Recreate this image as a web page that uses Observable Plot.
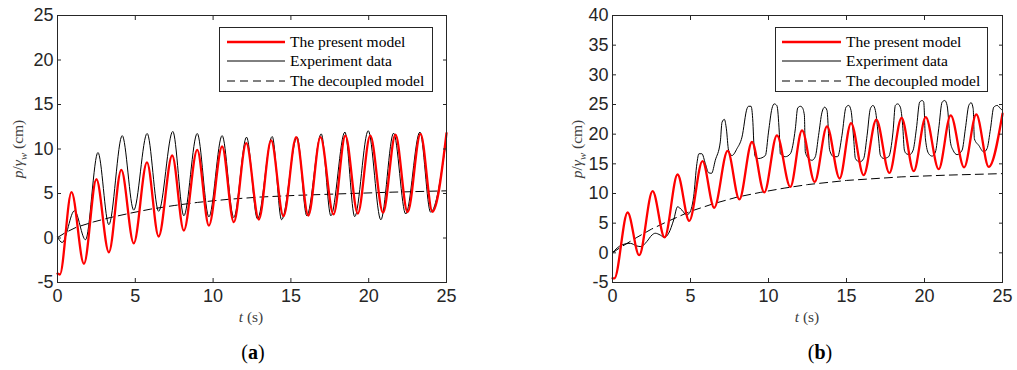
<!DOCTYPE html>
<html>
<head>
<meta charset="utf-8">
<script src="https://cdn.jsdelivr.net/npm/d3@7"></script>
<script src="https://cdn.jsdelivr.net/npm/@observablehq/plot@0.6"></script>
<style>
  html, body { margin: 0; padding: 0; background: #fff; }
  #wrap { position: relative; width: 1017px; height: 370px; overflow: hidden; background: #fff; }
  .panel { position: absolute; top: 0; }
  .panel text { font-size: 18px !important; font-family: "Liberation Sans", Arial, sans-serif !important; fill: #262626; }
  .serif { font-family: "Liberation Serif", "DejaVu Serif", serif; }
  .ylab { position: absolute; transform: translate(-50%, -50%) rotate(-90deg); white-space: nowrap; font-size: 15.5px; color: #404040; }
  .xlab { position: absolute; transform: translate(-50%, -50%); white-space: nowrap; font-size: 15.5px; color: #404040; }
  .plab { position: absolute; transform: translate(-50%, -50%); white-space: nowrap; font-size: 20px; color: #000; }
  .legend { position: absolute; box-sizing: border-box; border: 1px solid #262626; background: #fff; }
  .legend .row { position: absolute; left: 0; height: 20px; width: 100%; }
  .legend svg { position: absolute; left: 0; top: 0; }
  .legend span { position: absolute; top: 0; line-height: 20px; font-size: 15.5px; color: #000; white-space: nowrap; }
  sub { font-size: 70%; vertical-align: -0.35em; line-height: 0; }
</style>
</head>
<body>
<div id="wrap"></div>
<script>
// ---------------- data ----------------
const xTicks = [0, 5, 10, 15, 20, 25];
const yTicksA = [-5, 0, 5, 10, 15, 20, 25];
const yTicksB = [-5, 0, 5, 10, 15, 20, 25, 30, 35, 40];
const seriesNames = ["The present model", "Experiment data", "The decoupled model"];

// panel (a): [t (s), p/γw (cm)]
const presentA = [[0,-4.0],[0.15,-4.1],[0.9,5.15],[1.7,-2.9],[2.5,6.6],[3.3,-1.6],[4.1,7.66],[4.9,-0.6],[5.75,8.5],[6.5,0.17],[7.37,9.27],[8.12,0.84],[8.98,9.9],[9.73,1.4],[10.58,10.28],[11.33,1.78],[12.13,10.65],[12.94,2.08],[13.73,10.96],[14.52,2.45],[15.34,11.33],[16.12,2.53],[16.9,11.33],[17.74,2.65],[18.5,11.5],[19.3,2.75],[20.1,11.5],[20.92,2.85],[21.72,11.6],[22.5,2.9],[23.33,11.7],[24.1,2.95],[25,11.78]];
const experimentA = [[0,0.1],[0.3,-0.5],[1.09,3.06],[1.8,-0.2],[2.6,9.6],[3.3,1.5],[4.16,11.5],[4.9,3.13],[5.76,11.74],[6.5,3.0],[7.41,11.97],[8.12,2.5],[8.98,11.74],[9.73,2.38],[10.58,11.5],[11.33,2.3],[12.15,11.33],[12.85,2.15],[13.8,11.4],[14.4,2.05],[15.4,11.33],[16.02,2.5],[16.95,11.7],[17.57,2.5],[18.47,11.9],[19.1,2.4],[19.97,12.05],[20.78,2.05],[21.6,11.78],[22.38,2.7],[23.29,11.9],[23.98,2.9],[25,11.2]];
const decoupledA = [[0,0.05],[0.5,0.6],[1.2,1.2],[2.3,1.8],[3.4,2.3],[4.7,2.8],[6,3.25],[7.5,3.65],[9,4.0],[11,4.35],[13,4.6],[15.5,4.8],[18,4.95],[21.5,5.15],[25,5.3]];

// panel (b)
const presentB = [[0,-4.3],[0.12,-4.3],[0.97,6.8],[1.71,-0.4],[2.57,10.4],[3.34,2.6],[4.17,13.2],[4.92,5.38],[5.77,15.44],[6.52,7.6],[7.38,17.17],[8.13,9.0],[8.94,18.68],[9.73,10.18],[10.54,19.8],[11.4,11.12],[12.15,20.64],[12.96,11.96],[13.75,21.3],[14.56,12.53],[15.29,21.87],[16.1,13.09],[16.91,22.43],[17.75,13.47],[18.53,22.75],[19.31,13.76],[20.08,22.87],[20.91,14.1],[21.68,23.16],[22.54,14.4],[23.32,23.33],[24.12,14.48],[25,23.44]];
const experimentB = [[0,0.04],[0.6,1.33],[1.14,1.6],[1.56,1.16],[1.82,1.05],[2.2,1.9],[2.53,3.0],[2.74,3.3],[3.06,3.0],[3.32,2.6],[3.6,3.3],[3.92,5.53],[4.17,7.76],[4.45,7.2],[4.75,6.4],[4.9,6.6],[5.2,9.44],[5.41,15.05],[5.54,16.7],[5.73,16.7],[5.95,15.05],[6.16,13.5],[6.35,13.4],[6.59,15.6],[6.91,18.7],[7.02,22.0],[7.17,22.5],[7.3,20.9],[7.44,17.3],[7.66,16.4],[7.98,17.57],[8.3,19.5],[8.62,24.3],[8.72,24.7],[8.88,24.7],[9.0,22.0],[9.05,19.0],[9.15,16.2],[9.37,15.9],[9.8,16.4],[10.0,20.35],[10.22,24.3],[10.37,25.1],[10.54,24.8],[10.69,20.35],[10.76,16.7],[11.08,16.2],[11.4,16.7],[11.72,20.9],[11.87,24.4],[12.04,24.7],[12.15,24.55],[12.3,23.2],[12.36,17.0],[12.57,15.9],[12.79,15.6],[13.0,16.2],[13.21,19.8],[13.43,23.7],[13.6,24.55],[13.75,24.0],[13.92,17.3],[14.18,16.2],[14.43,16.2],[14.71,19.8],[14.97,24.55],[15.14,24.84],[15.29,24.0],[15.46,19.2],[15.57,15.9],[15.85,15.3],[16.1,15.9],[16.32,19.8],[16.53,24.3],[16.7,24.84],[16.85,24.0],[17.06,19.2],[17.17,16.45],[17.38,15.9],[17.7,16.2],[17.98,20.35],[18.13,24.84],[18.28,25.1],[18.45,24.55],[18.6,21.5],[18.71,17.3],[18.84,16.7],[19.05,16.55],[19.27,17.3],[19.48,20.9],[19.69,25.4],[19.85,25.67],[19.95,25.4],[20.06,19.2],[20.27,16.7],[20.49,16.3],[20.7,17.0],[20.91,20.9],[21.13,25.4],[21.3,25.67],[21.45,24.84],[21.66,18.7],[21.83,17.3],[22.09,16.55],[22.41,17.3],[22.62,20.9],[22.84,24.84],[22.99,25.3],[23.12,24.3],[23.2,19.2],[23.48,18.1],[23.8,17.0],[24.01,17.57],[24.23,20.9],[24.44,24.55],[24.66,24.84],[24.87,24.3],[25,24.0]];
const decoupledB = [[0,0],[0.5,0.9],[1.56,2.6],[2.5,4.0],[3.5,5.25],[5,7.0],[6.5,8.3],[8,9.4],[9.5,10.2],[11,10.9],[12.5,11.5],[15,12.2],[18.5,12.8],[21.5,13.1],[25,13.35]];

// ---------------- drawing ----------------
const wrap = document.getElementById("wrap");
const tickColor = "#262626";
const tickFont = "'Liberation Sans', Arial, sans-serif";
const fmt = d => String(d);

function makePanel({left, width, marginRight, yDomain, yTicks, present, experiment, decoupled}) {
  const chart = Plot.plot({
    width, height: 330,
    marginLeft: 57, marginRight, marginTop: 15, marginBottom: 48,
    style: {fontFamily: tickFont, fontSize: "18px", color: tickColor, background: "transparent", overflow: "visible"},
    x: {domain: [0, 25]},
    y: {domain: yDomain},
    marks: [
      Plot.line(decoupled, {x: d => d[0], y: d => d[1], stroke: "#000", strokeWidth: 1, strokeDasharray: "8,5"}),
      Plot.line(experiment, {x: d => d[0], y: d => d[1], stroke: "#000", strokeWidth: 1, curve: "monotone-x"}),
      Plot.line(present, {x: d => d[0], y: d => d[1], stroke: "#ff0000", strokeWidth: 2.3, curve: "monotone-x"}),
      Plot.frame({stroke: tickColor, strokeWidth: 1}),
      Plot.axisX({anchor: "bottom", ticks: xTicks, tickFormat: fmt, tickSize: -4, tickPadding: 11, label: null, stroke: tickColor, fontSize: 18, fontFamily: tickFont}),
      Plot.axisX({anchor: "top", ticks: xTicks, tickSize: -4, tickFormat: () => "", label: null, stroke: tickColor}),
      Plot.axisY({anchor: "left", ticks: yTicks, tickFormat: fmt, tickSize: -4, tickPadding: 8, label: null, stroke: tickColor, fontSize: 18, fontFamily: tickFont}),
      Plot.axisY({anchor: "right", ticks: yTicks, tickSize: -4, tickFormat: () => "", label: null, stroke: tickColor})
    ]
  });
  chart.classList.add("panel");
  chart.style.left = left + "px";
  wrap.appendChild(chart);
}

makePanel({left: 0, width: 508, marginRight: 62, yDomain: [-5, 25], yTicks: yTicksA,
  present: presentA, experiment: experimentA, decoupled: decoupledA});
makePanel({left: 555, width: 462, marginRight: 15, yDomain: [-5, 40], yTicks: yTicksB,
  present: presentB, experiment: experimentB, decoupled: decoupledB});

function addText(cls, x, y, html) {
  const d = document.createElement("div");
  d.className = cls + " serif";
  d.style.left = x + "px";
  d.style.top = y + "px";
  d.innerHTML = html;
  wrap.appendChild(d);
}
const yLabel = "<i>p</i>/<i>γ<sub>w</sub></i> (cm)";
const xLabel = "<i>t</i> (s)";
addText("ylab", 18, 149, yLabel);
addText("ylab", 577, 149, yLabel);
addText("xlab", 251, 317, xLabel);
addText("xlab", 807, 317, xLabel);
addText("plab", 253, 352, "(<b>a</b>)");
addText("plab", 820, 352, "(<b>b</b>)");

function addLegend(left, lineX1, lineX2, textX, widthPx) {
  const box = document.createElement("div");
  box.className = "legend";
  box.style.left = left + "px";
  box.style.top = "27px";
  box.style.width = widthPx + "px";
  box.style.height = "65px";
  const styles = [
    {stroke: "#ff0000", sw: 2.3, dash: null},
    {stroke: "#000", sw: 1, dash: null},
    {stroke: "#000", sw: 1, dash: "8,5"}
  ];
  seriesNames.forEach((name, i) => {
    const row = document.createElement("div");
    row.className = "row";
    row.style.top = (3.5 + i * 19.7) + "px";
    const s = styles[i];
    row.innerHTML = `<svg width="${widthPx}" height="20"><line x1="${lineX1}" x2="${lineX2}" y1="10" y2="10" stroke="${s.stroke}" stroke-width="${s.sw}" ${s.dash ? `stroke-dasharray="${s.dash}"` : ""}/></svg><span class="serif" style="left:${textX}px">${name}</span>`;
    box.appendChild(row);
  });
  wrap.appendChild(box);
}
addLegend(219, 7, 65, 70, 214);
addLegend(775, 6, 65, 70, 213);
</script>
</body>
</html>
